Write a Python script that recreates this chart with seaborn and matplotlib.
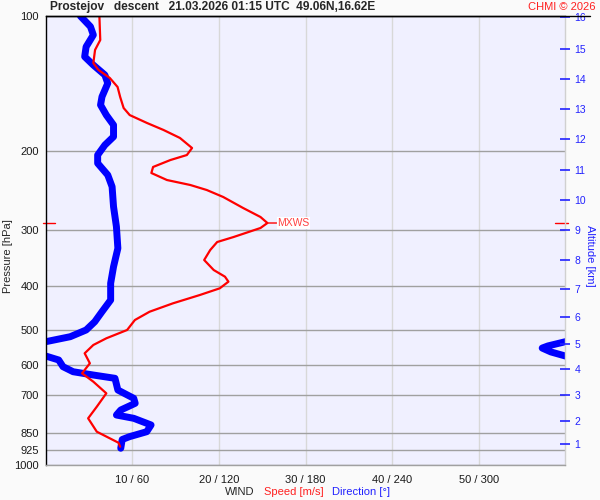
import numpy as np
import pandas as pd
import matplotlib
matplotlib.use("Agg")
import matplotlib.pyplot as plt
import seaborn as sns
from matplotlib.ticker import NullLocator
from matplotlib.lines import Line2D

# ----------------------------
# Data
# ----------------------------
speed_p = [100, 113.1, 119.0, 127.3, 131.9, 137.4, 143.9, 151.5, 160.3, 166.2,
           173.1, 179.4, 186.9, 196.8, 204.0, 209.3, 216.9, 223.7, 231.9, 237.9,
           244.1, 253.0, 267.7, 280.3, 289.1, 296.6, 310.6, 318.7, 332.0, 349.5,
           367.9, 380.7, 390.6, 404.1, 418.2, 436.4, 455.6, 475.4, 500.4, 522.2,
           540.4, 563.9, 593.6, 624.8, 652.3, 692.4, 741.6, 787.1, 843.0, 892.0,
           910.4]
speed = [6.2, 6.3, 5.7, 5.5, 6.1, 7.4, 8.3, 8.6, 9.0, 9.7,
         11.7, 13.6, 15.5, 16.9, 16.3, 14.4, 12.4, 12.2, 14.0, 16.7,
         18.6, 20.5, 22.8, 24.8, 25.6, 24.8, 21.7, 19.8, 19.0, 18.3,
         19.4, 20.7, 21.1, 20.1, 17.8, 14.7, 12.0, 10.3, 9.4, 7.0,
         5.5, 4.5, 5.1, 4.2, 5.5, 7.0, 5.9, 4.9, 5.9, 8.4,
         8.6]

dir_p = [100, 105.6, 110.2, 117.1, 123.2, 128.6, 135.3, 141.2, 151.3, 157.8,
         166.2, 174.9, 185.7, 193.8, 204.0, 212.8, 226.0, 240.0, 265.9, 294.6,
         329.1, 361.7, 393.8, 429.1, 455.6, 479.6, 500.4, 517.9, 531.4, 543.0,
         549.0, 560.0, 571.8, 583.6, 604.0, 619.8, 630.4, 641.1, 680.8, 710.4,
         728.8, 754.3, 773.9, 787.1, 814.4, 843.0, 864.9, 877.4, 917.8]
# unwrapped direction in degrees (negative = just below 360)
direction = [24, 31, 33, 28, 27, 33, 41, 43, 39, 38,
             42, 47, 47, 41, 36, 36, 43, 46, 47, 49,
             50, 47, 45, 45, 39, 34, 28, 17, 0, -12,
             -16, -10, 0, 9, 12, 19, 33, 48, 50, 61,
             62, 52, 49, 61, 73, 70, 58, 53, 52]

pressure_ticks = [100, 200, 300, 400, 500, 600, 700, 850, 925, 1000]
speed_ticks = [10, 20, 30, 40, 50]

alt_km = list(range(1, 17))
alt_p = [899.3, 796.8, 699.4, 611.3, 537.7, 467.4, 404.9, 349.5,
         299.6, 256.9, 220.3, 188.2, 161.1, 138.1, 118.4, 100.4]

title = "Prostejov   descent   21.03.2026 01:15 UTC  49.06N,16.62E"

# ----------------------------
# Plot
# ----------------------------
sns.set_theme(style="white")
plt.rcParams["font.family"] = ["Liberation Sans", "DejaVu Sans"]

fig = plt.figure(figsize=(6, 5), dpi=100, facecolor="#fafafa")
ax = fig.add_axes([45.7 / 600, 35 / 500, 519.6 / 600, 449 / 500])
ax.set_facecolor("#f0f0ff")

speed_df = pd.DataFrame({"pressure": speed_p, "speed": speed})
dir_df = pd.DataFrame({"pressure": dir_p, "direction": direction})
# direction drawn on the same axis: 60 m/s <-> 360 deg
dir_df["x"] = dir_df["direction"] / 6
dir_df["x_wrap"] = (dir_df["direction"] + 360) / 6

for col in ["x", "x_wrap"]:
    sns.lineplot(data=dir_df, x=col, y="pressure", sort=False, estimator=None,
                 color="#0000ff", lw=5, solid_capstyle="round", ax=ax)
sns.lineplot(data=speed_df, x="speed", y="pressure", sort=False, estimator=None,
             color="#ff0000", lw=1.6, ax=ax)

ax.set_yscale("log")
ax.set_ylim(1000, 100)
ax.set_xlim(0, 60)
ax.set_yticks(pressure_ticks)
ax.set_yticklabels([str(p) for p in pressure_ticks])
ax.yaxis.set_minor_locator(NullLocator())
ax.set_xticks(speed_ticks)
ax.set_xticklabels([f"{s} / {s * 6}" for s in speed_ticks])
ax.set_xlabel("")
ax.set_ylabel("")
ax.yaxis.grid(True, color="#a0a0a0", lw=1)
ax.xaxis.grid(True, color="#d8d8d8", lw=1)
ax.tick_params(axis="both", length=0, labelsize=8, colors="#1a1a1a")
ax.tick_params(axis="y", pad=5)
ax.tick_params(axis="x", pad=7)

ax.spines["left"].set_color("black")
ax.spines["top"].set_color("black")
ax.spines["right"].set_color("#d0d0d0")
ax.spines["bottom"].set_color("#a0a0a0")
for s in ax.spines.values():
    s.set_linewidth(1)

# max wind marker
imax = int(np.argmax(speed))
ax.annotate("MXWS", xy=(speed[imax], speed_p[imax]), xytext=(7, 0),
            textcoords="offset points", ha="left", va="center", fontsize=7.5,
            color="#ff4040",
            bbox=dict(boxstyle="square,pad=0.05", fc="white", ec="none"),
            arrowprops=dict(arrowstyle="-", color="red", lw=1, shrinkA=0, shrinkB=0))
ax.plot([-0.005, 0.018], [speed_p[imax]] * 2, transform=ax.get_yaxis_transform(),
        color="red", lw=1, clip_on=False)
ax.plot([0.98, 1.005], [speed_p[imax]] * 2, transform=ax.get_yaxis_transform(),
        color="red", lw=1, clip_on=False)

# altitude axis
ax2 = ax.twinx()
ax2.set_yscale("log")
ax2.set_ylim(1000, 100)
ax2.set_yticks(alt_p)
ax2.set_yticklabels([str(k) for k in alt_km])
ax2.yaxis.set_minor_locator(NullLocator())
ax2.grid(False)
ax2.tick_params(axis="y", direction="inout", length=7, width=1.2, labelsize=7.5,
                colors="#2222ff", pad=3)
for s in ax2.spines.values():
    s.set_visible(False)

# texts
fig.add_artist(Line2D([45.7 / 600, 590 / 600], [0.968, 0.968], color="black", lw=1))
fig.text(50 / 600, 0.986, title, fontsize=8.6, fontweight="bold", va="center", ha="left")
fig.text(596 / 600, 0.986, "CHMI © 2026", fontsize=8, color="#ff2020", va="center", ha="right")
fig.text(8 / 600, 0.488, "Pressure [hPa]", fontsize=8, rotation=90, va="center", ha="center")
fig.text(590 / 600, 0.488, "Altitude [km]", fontsize=8, rotation=270, va="center",
         ha="center", color="#2222ff")
fig.text(225 / 600, 0.016, "WIND", fontsize=8, va="center", ha="left")
fig.text(264 / 600, 0.016, "Speed [m/s]", fontsize=8, va="center", ha="left", color="#ff2020")
fig.text(332 / 600, 0.016, "Direction [°]", fontsize=8, va="center", ha="left", color="#2222ff")

fig.savefig("out.png", dpi=100, facecolor=fig.get_facecolor())
